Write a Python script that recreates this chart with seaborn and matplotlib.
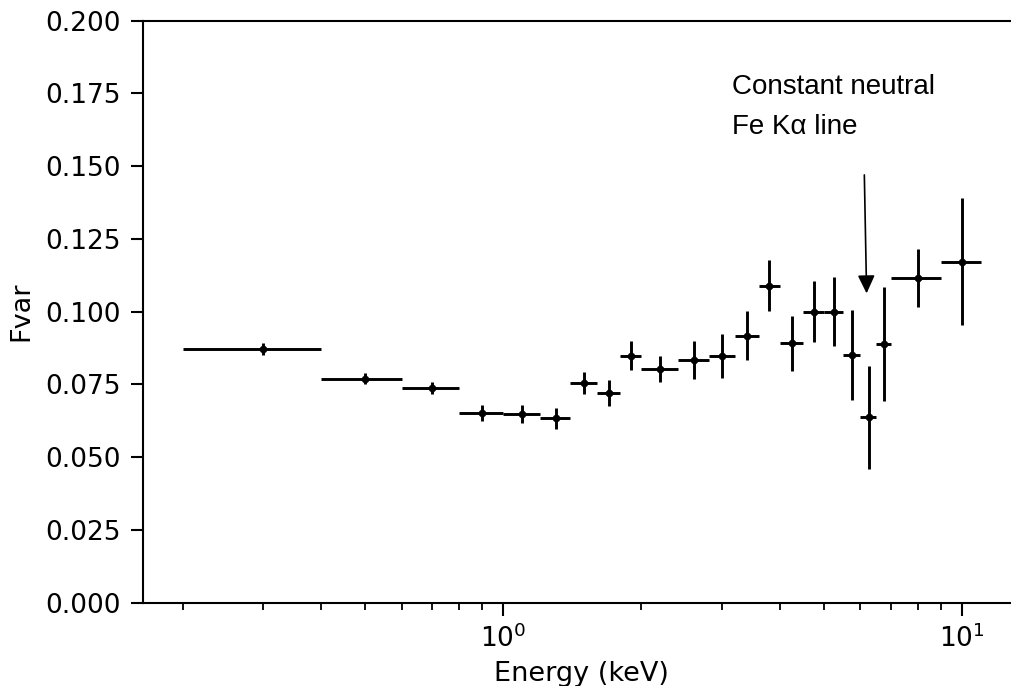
import numpy as np
import pandas as pd
import matplotlib
matplotlib.use("Agg")
import matplotlib.pyplot as plt
import seaborn as sns

# Energy bins (keV): lower and upper edges, bin centres
e_lo = [0.2, 0.4, 0.6, 0.8, 1.0, 1.2, 1.4, 1.6, 1.8, 2.0, 2.4,
        2.8, 3.2, 3.6, 4.0, 4.5, 5.0, 5.5, 6.0, 6.5, 7.0, 9.0]
e_hi = [0.4, 0.6, 0.8, 1.0, 1.2, 1.4, 1.6, 1.8, 2.0, 2.4, 2.8,
        3.2, 3.6, 4.0, 4.5, 5.0, 5.5, 6.0, 6.5, 7.0, 9.0, 11.0]
e_mid = [0.3, 0.5, 0.7, 0.9, 1.1, 1.3, 1.5, 1.7, 1.9, 2.2, 2.6,
         3.0, 3.4, 3.8, 4.25, 4.75, 5.25, 5.75, 6.25, 6.75, 8.0, 10.0]

# Fractional variability and its 1-sigma uncertainty
fvar = [0.0872, 0.0769, 0.0738, 0.0651, 0.0648, 0.0634, 0.0756, 0.0722,
        0.0849, 0.0803, 0.0834, 0.0848, 0.0918, 0.1089, 0.0891, 0.1000,
        0.1000, 0.0851, 0.0637, 0.0889, 0.1115, 0.1172]
fvar_err = [0.0021, 0.0019, 0.0021, 0.0027, 0.0031, 0.0036, 0.0038, 0.0045,
            0.0050, 0.0044, 0.0064, 0.0077, 0.0085, 0.0088, 0.0096, 0.0105,
            0.0118, 0.0154, 0.0176, 0.0195, 0.0100, 0.0219]

y_ticks = [0.0, 0.025, 0.05, 0.075, 0.1, 0.125, 0.15, 0.175, 0.2]

df = pd.DataFrame({"energy": e_mid, "lo": e_lo, "hi": e_hi,
                   "fvar": fvar, "err": fvar_err})

sns.set_style("ticks")
plt.rcParams["font.family"] = ["DejaVu Sans"]
plt.rcParams["axes.linewidth"] = 1.5
for key in ["text.color", "axes.labelcolor", "xtick.color", "ytick.color",
            "axes.edgecolor"]:
    plt.rcParams[key] = "black"

fig = plt.figure(figsize=(10.12, 6.86), dpi=100)
ax = fig.add_axes([0.141, 0.1214, 0.868, 0.8484])

xerr = np.vstack([df["energy"] - df["lo"], df["hi"] - df["energy"]])
ax.errorbar(df["energy"], df["fvar"], xerr=xerr, yerr=df["err"],
            fmt="none", ecolor="black", elinewidth=2.1, capsize=0)
sns.scatterplot(data=df, x="energy", y="fvar", ax=ax, color="black",
                s=30, linewidth=0, zorder=3)

ax.set_xscale("log")
ax.set_ylim(0, 0.2)
ax.set_yticks(y_ticks)

ax.set_xlabel("Energy (keV)", fontsize=19.5, labelpad=6)
ax.set_ylabel("Fvar", fontsize=19.5, labelpad=8)
ax.tick_params(axis="both", which="major", labelsize=19, length=9,
               width=1.5, pad=6.5)
ax.tick_params(axis="both", which="minor", length=5, width=1.3)

for side in ["top", "left", "bottom", "right"]:
    ax.spines[side].set_visible(True)
    ax.spines[side].set_color("black")

# Annotation for the iron line
ax.text(3.15, 0.1747, "Constant neutral", fontsize=20, color="black",
        family=["Liberation Sans", "DejaVu Sans"], va="baseline", ha="left")
ax.text(3.15, 0.1610, "Fe K\u03b1 line", fontsize=20, color="black",
        family=["Liberation Sans", "DejaVu Sans"], va="baseline", ha="left")
ax.annotate("", xy=(6.19, 0.1063), xytext=(6.12, 0.147),
            arrowprops=dict(arrowstyle="-|>,head_width=0.52,head_length=1.1",
                            color="black", lw=1.2, shrinkA=0, shrinkB=0))

fig.savefig("out.png", dpi=100)
